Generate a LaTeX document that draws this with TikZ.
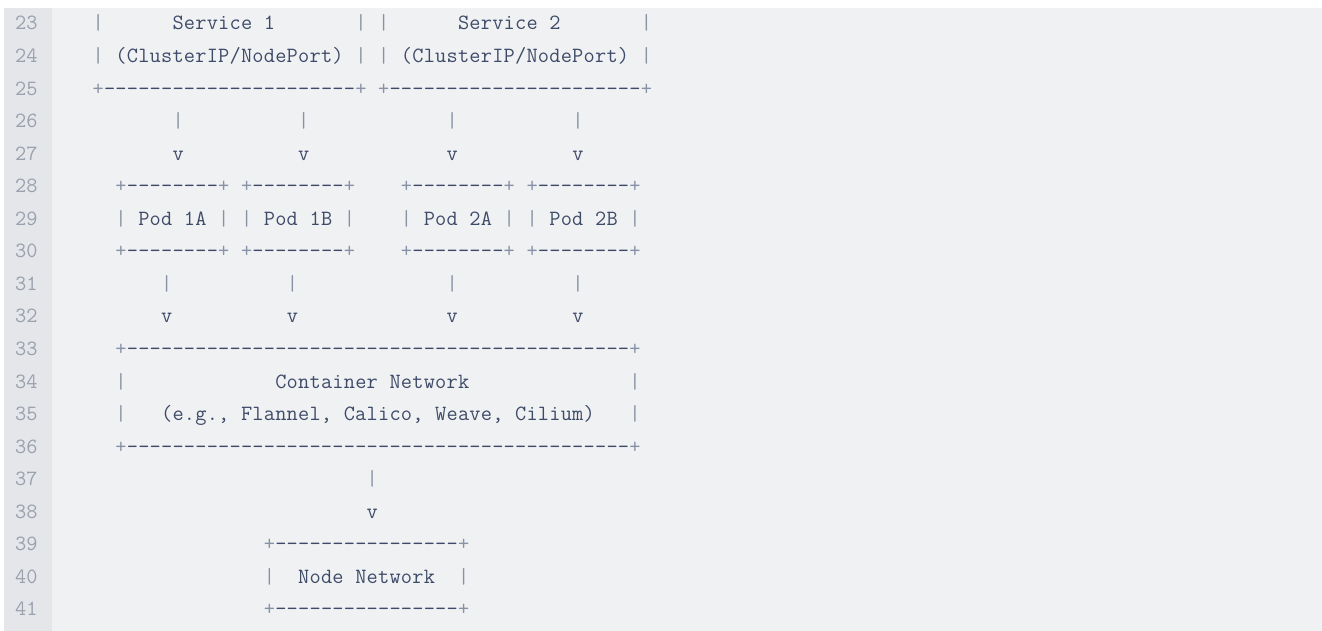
\documentclass[tikz,border=0pt]{standalone}
\usepackage{fontspec}
\setmonofont{Latin Modern Mono}
\usepackage{xcolor}
\definecolor{pagebg}{HTML}{FFFFFF}
\definecolor{codebg}{HTML}{F0F1F3}
\definecolor{gutterbg}{HTML}{E4E6EA}
\definecolor{lnumfg}{HTML}{9AA1AD}
\definecolor{codefg}{HTML}{3E4B68}
\definecolor{punctfg}{HTML}{8792A6}

% every character of a code line sits in a cell of fixed width
\newlength\cw
\setlength\cw{11.42pt}
\protected\def\spacecell{}
\newcommand\cellchar[1]{%
  \ifx\spacecell#1\hbox to\cw{\hss}%
  \else\ifx_#1\hbox to\cw{\hss}%
  \else\ifx|#1\hbox to\cw{\hss\textcolor{punctfg}{|}\hss}%
  \else\ifx+#1\hbox to\cw{\hss\textcolor{punctfg}{+}\hss}%
  \else\hbox to\cw{\hss#1\hss}\fi\fi\fi\fi}

% \SP{n}: n blank cells, \DA{n}: n dashes, "_" is a single blank
\ExplSyntaxOn
\cs_new:Npn \SP #1 { \prg_replicate:nn {#1} { \spacecell } }
\cs_new:Npn \DA #1 { \prg_replicate:nn {#1} { - } }
\cs_new_protected:Npn \codetext #1
  {
    \tl_set:Nx \l_tmpa_tl {#1}
    \tl_map_function:NN \l_tmpa_tl \cellchar
  }
\ExplSyntaxOff

\tikzset{
  codeline/.style={anchor=base west, inner sep=0pt, outer sep=0pt,
    font=\ttfamily\fontsize{21.75}{21.75}\selectfont, text=codefg},
  lnum/.style={anchor=base east, inner sep=0pt, outer sep=0pt,
    font=\ttfamily\fontsize{21.75}{21.75}\selectfont, text=lnumfg}
}

\begin{document}
\begin{tikzpicture}[x=1pt,y=-1pt]
\useasboundingbox (0,0) rectangle (1322,631);
\fill[pagebg] (0,0) rectangle (1322,631);
\fill[codebg] (4,8) rectangle (1322,631);
\fill[gutterbg] (4,8) rectangle (52,631);

% line numbers
\foreach \n in {23,...,41}
  \node[lnum] (n\n) at (37.5,{30+(\n-23)*32.55}) {\n};

% code lines (column 0 starts at x = 92.5)
\node[codeline] (l23) at (92.5,30.00) {\codetext{|\SP{6}Service_1\SP{7}|_|\SP{6}Service_2\SP{7}|}};
\node[codeline] (l24) at (92.5,62.55) {\codetext{|_(ClusterIP/NodePort)_|_|_(ClusterIP/NodePort)_|}};
\node[codeline] (l25) at (92.5,95.10) {\codetext{+\DA{22}+_+\DA{22}+}};
\node[codeline] (l26) at (92.5,127.65) {\codetext{\SP{7}|\SP{10}|\SP{12}|\SP{10}|}};
\node[codeline] (l27) at (92.5,160.20) {\codetext{\SP{7}v\SP{10}v\SP{12}v\SP{10}v}};
\node[codeline] (l28) at (92.5,192.75) {\codetext{\SP{2}+\DA{8}+_+\DA{8}+\SP{4}+\DA{8}+_+\DA{8}+}};
\node[codeline] (l29) at (92.5,225.30) {\codetext{\SP{2}|_Pod_1A_|_|_Pod_1B_|\SP{4}|_Pod_2A_|_|_Pod_2B_|}};
\node[codeline] (l30) at (92.5,257.85) {\codetext{\SP{2}+\DA{8}+_+\DA{8}+\SP{4}+\DA{8}+_+\DA{8}+}};
\node[codeline] (l31) at (92.5,290.40) {\codetext{\SP{6}|\SP{10}|\SP{13}|\SP{10}|}};
\node[codeline] (l32) at (92.5,322.95) {\codetext{\SP{6}v\SP{10}v\SP{13}v\SP{10}v}};
\node[codeline] (l33) at (92.5,355.50) {\codetext{\SP{2}+\DA{44}+}};
\node[codeline] (l34) at (92.5,388.05) {\codetext{\SP{2}|\SP{13}Container_Network\SP{14}|}};
\node[codeline] (l35) at (92.5,420.60) {\codetext{\SP{2}|\SP{3}(e.g.,_Flannel,_Calico,_Weave,_Cilium)\SP{3}|}};
\node[codeline] (l36) at (92.5,453.15) {\codetext{\SP{2}+\DA{44}+}};
\node[codeline] (l37) at (92.5,485.70) {\codetext{\SP{24}|}};
\node[codeline] (l38) at (92.5,518.25) {\codetext{\SP{24}v}};
\node[codeline] (l39) at (92.5,550.80) {\codetext{\SP{15}+\DA{16}+}};
\node[codeline] (l40) at (92.5,583.35) {\codetext{\SP{15}|\SP{2}Node_Network\SP{2}|}};
\node[codeline] (l41) at (92.5,615.90) {\codetext{\SP{15}+\DA{16}+}};
\end{tikzpicture}
\end{document}
